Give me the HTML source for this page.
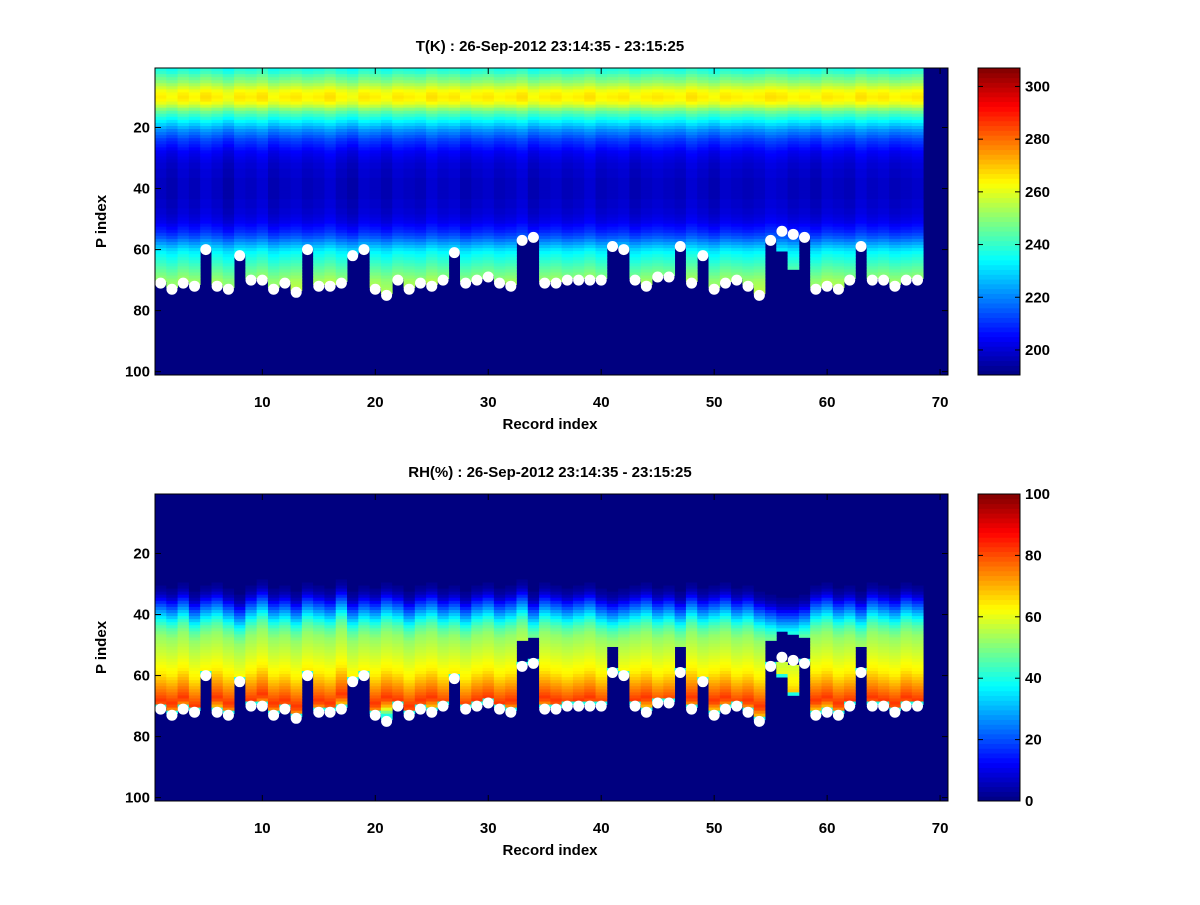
<!DOCTYPE html>
<html><head><meta charset="utf-8"><style>
body{margin:0;background:#fff;font-family:"Liberation Sans",sans-serif}
svg text{font-family:"Liberation Sans",sans-serif;font-weight:bold;font-size:15px;fill:#000}
</style></head><body>
<svg id="fig" width="1200" height="900" xmlns="http://www.w3.org/2000/svg">
<rect width="1200" height="900" fill="#fff"/>
</svg>
<script>
// ---- data ----
const records = Array.from({length:68},(_,i)=>i+1);
const surface = [71,73,71,72,60,72,73,62,70,70,73,71,74,60,72,72,71,62,60,73,75,70,73,71,72,70,61,71,70,69,71,72,57,56,71,71,70,70,70,70,59,60,70,72,69,69,59,71,62,73,71,70,72,75,57,54,55,56,73,72,73,70,59,70,70,72,70,70];
const dataEnd = [71,73,71,72,60,72,73,62,70,70,73,71,74,60,72,72,71,62,60,73,75,70,73,71,72,70,61,71,70,69,71,72,57,56,71,71,70,70,70,70,59,60,70,72,69,69,59,71,62,73,71,70,72,75,57,61,67,56,73,72,73,70,59,70,70,72,70,70];
const tOff = [0,-2,1,-1,2,0,-3,1,0,2,-2,0,1,-1,0,2,-1,-3,1,0,-2,1,0,-1,2,0,1,-2,0,1,-1,0,2,-2,0,1,-1,0,2,-1,0,1,-2,0,1,0,-1,2,0,-2,1,0,-1,0,2,1,-1,0,-2,1,0,-1,2,0,1,-1,0,1];
const rhShift = [0,1,-1,2,0,-1,1,3,0,-2,1,0,2,-1,0,1,-2,2,0,1,-1,0,2,0,-1,1,0,2,0,-1,1,0,-2,2,-1,0,1,0,-1,1,2,1,0,-1,1,0,2,-1,1,0,-1,1,0,2,3,4,4,3,0,-1,1,0,2,-1,0,1,-1,0];
const tProfile = [238,240,244,247,250,254,258,262,264,265,264,261,256,250,245,241,237,233,229,225,221,218,215,212,210,208,206,204,203,202,201,200,200,199,199,199,198,198,198,198,198,198,198,199,199,199,200,200,201,202,203,205,207,209,212,215,219,223,227,231,234,236,238,240,242,244,246,248,250,252,253,254,255,256,257,257,257,257,257,257,257,257,257,257,257,257,257,257,257,257,257,257,257,257,257,257,257,257,257,257];
const rhProfile = [0,0,0,0,0,0,0,0,0,0,0,0,0,0,0,0,0,0,0,0,0,0,0,0,0,0,0,0,0,0,2,3,5,8,12,16,20,24,28,32,36,40,43,46,48,50,52,53,54,55,56,57,58,59,60,61,62,63,64,66,68,70,72,74,76,78,80,82,80,75,70,60,50,40,35,35,35,35,35,35,35,35,35,35,35,35,35,35,35,35,35,35,35,35,35,35,35,35,35,35];
const xTicks = [10,20,30,40,50,60,70];
const yTicks = [20,40,60,80,100];
const tTicks = [200,220,240,260,280,300];
const rhTicks = [0,20,40,60,80,100];

const NS="http://www.w3.org/2000/svg";
const svg=document.getElementById('fig');
function mk(tag,attrs,parent){const e=document.createElementNS(NS,tag);for(const k in attrs)e.setAttribute(k,attrs[k]);(parent||svg).appendChild(e);return e;}
function clamp(v){return Math.max(0,Math.min(1,v));}
function jet(t){t=clamp(t);const r=clamp(1.5-Math.abs(4*t-3)),g=clamp(1.5-Math.abs(4*t-2)),b=clamp(1.5-Math.abs(4*t-1));return `rgb(${Math.round(r*255)},${Math.round(g*255)},${Math.round(b*255)})`;}

const AX={x0:155,x1:948,xmin:0.5,xmax:70.7};
function xs(v){return AX.x0+(v-AX.xmin)/(AX.xmax-AX.xmin)*(AX.x1-AX.x0);}

function panel(top,title,vmin,vmax,valFn,cticks,cname){
  const y0=top,y1=top+307;
  const ys=v=>y0+(v-0.5)/100.6*(y1-y0);
  const g=mk('g',{});
  
  
  mk('rect',{x:AX.x0,y:y0,width:AX.x1-AX.x0,height:y1-y0,fill:jet(0)},g);
  records.forEach((r,i)=>{
    for(let p=1;p<=100;p++){
      const v=valFn(i,p);
      if(v===null)continue;
      const c=mk('rect',{x:xs(r-0.5),y:ys(p-0.5),width:xs(r+0.5)-xs(r-0.5)+0.4,height:ys(p+0.5)-ys(p-0.5)+0.4,fill:jet((v-vmin)/(vmax-vmin))},g);
      
      
    }
  });
  records.forEach((r,i)=>{
    const d=mk('circle',{cx:xs(r),cy:ys(surface[i]),r:5.5,fill:'#fff'});
    
    
  });
  const b=mk('rect',{x:AX.x0,y:y0,width:AX.x1-AX.x0,height:y1-y0,fill:'none',stroke:'#000','stroke-width':1});
  
  
  xTicks.forEach(t=>{const x=xs(t);mk('line',{x1:x,x2:x,y1:y1,y2:y1-6,stroke:'#000'});mk('line',{x1:x,x2:x,y1:y0,y2:y0+6,stroke:'#000'});
    const tx=mk('text',{x:x,y:y1+32,'text-anchor':'middle'});tx.textContent=t;});
  yTicks.forEach(t=>{const y=ys(t);mk('line',{x1:AX.x0,x2:AX.x0+6,y1:y,y2:y,stroke:'#000'});mk('line',{x1:AX.x1,x2:AX.x1-6,y1:y,y2:y,stroke:'#000'});
    const tx=mk('text',{x:AX.x0-5,y:y+5,'text-anchor':'end'});tx.textContent=t;});
  let t=mk('text',{x:550,y:top-17,'text-anchor':'middle'});t.textContent=title;
  t=mk('text',{x:550,y:y1+54,'text-anchor':'middle','font-size':'17'});t.textContent='Record index';
  t=mk('text',{x:106,y:(y0+y1)/2,'text-anchor':'middle','font-size':'17',transform:`rotate(-90 106 ${(y0+y1)/2})`});t.textContent='P index';
  const cx0=978,cx1=1020,n=64;
  const cg=mk('g',{});
  for(let k=0;k<n;k++){mk('rect',{x:cx0,y:y1-(k+1)*(y1-y0)/n,width:cx1-cx0,height:(y1-y0)/n+0.5,fill:jet((k+0.5)/n)},cg);}
  mk('rect',{x:cx0,y:y0,width:cx1-cx0,height:y1-y0,fill:'none',stroke:'#000'},cg);
  cticks.forEach(v=>{const y=y1-(v-vmin)/(vmax-vmin)*(y1-y0);
    mk('line',{x1:cx0,x2:cx0+5,y1:y,y2:y,stroke:'#000'},cg);mk('line',{x1:cx1,x2:cx1-5,y1:y,y2:y,stroke:'#000'},cg);
    const tx=mk('text',{x:cx1+5,y:y+5},cg);tx.textContent=v;});
}
panel(68,'T(K) : 26-Sep-2012 23:14:35 - 23:15:25',190.5,307,(i,p)=>{
  if(p>=dataEnd[i])return null;
  return tProfile[p-1]+tOff[i];
},tTicks,'temperature');
panel(494,'RH(%) : 26-Sep-2012 23:14:35 - 23:15:25',0,100,(i,p)=>{
  if(p>=dataEnd[i])return null;
  if(p===dataEnd[i]-1)return 40;
  const q=Math.max(1,Math.min(100,p-rhShift[i]));
  let v=rhProfile[q-1];
  if(dataEnd[i]<60&&p>dataEnd[i]-9)return null;
  if(dataEnd[i]>=60&&surface[i]<60&&p<surface[i]+2&&p>surface[i]-9)return null;
  return v;
},rhTicks,'humidity');
</script>
</body></html>
